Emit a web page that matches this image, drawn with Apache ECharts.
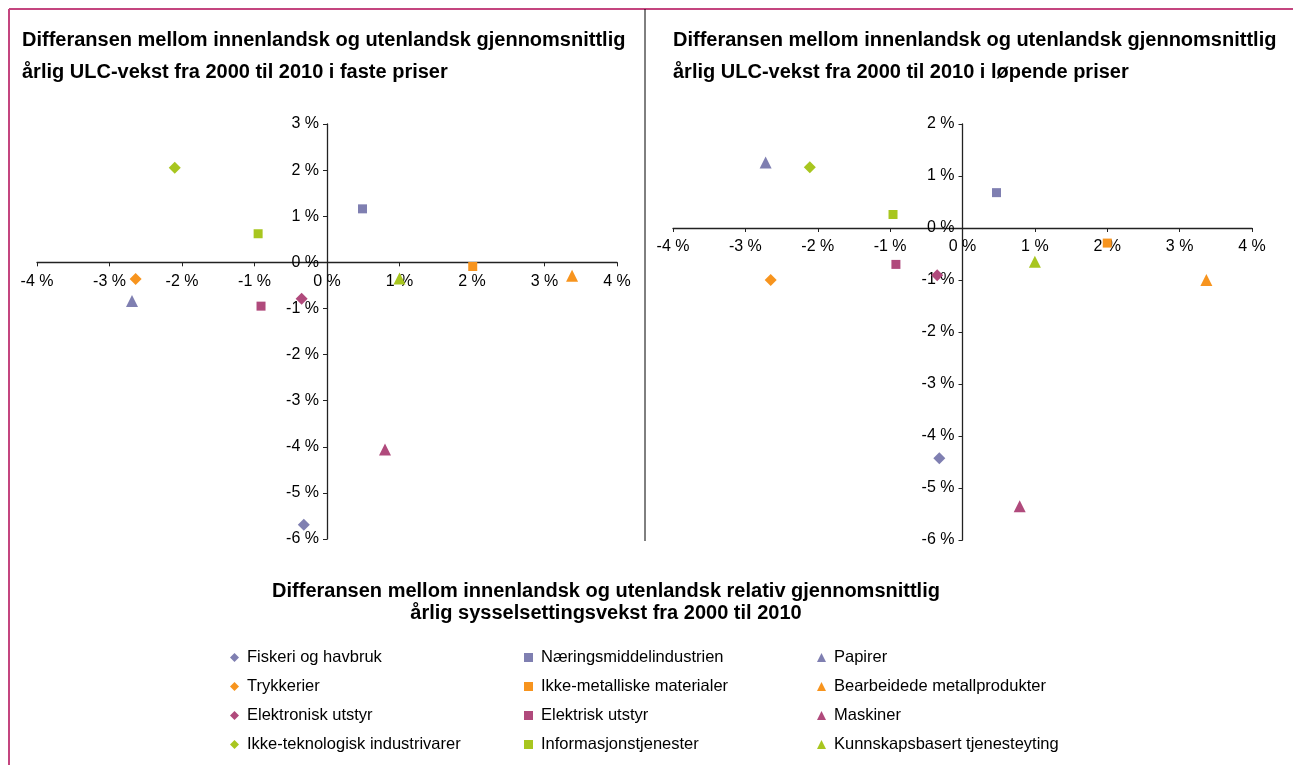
<!DOCTYPE html>
<html><head><meta charset="utf-8">
<script src="https://cdn.jsdelivr.net/npm/echarts@6/dist/echarts.min.js"></script>
<style>html,body{margin:0;padding:0;background:#fff}#c{width:1293px;height:765px}</style>
</head><body><div id="c"></div>
<script>
const seriesNames = ["Fiskeri og havbruk","Næringsmiddelindustrien","Papirer","Trykkerier","Ikke-metalliske materialer","Bearbeidede metallprodukter","Elektronisk utstyr","Elektrisk utstyr","Maskiner","Ikke-teknologisk industrivarer","Informasjonstjenester","Kunnskapsbasert tjenesteyting"];
const symbols = ["diamond","rect","triangle","diamond","rect","triangle","diamond","rect","triangle","diamond","rect","triangle"];
const colors = ["#7F7FB1","#7F7FB1","#7F7FB1","#F7941E","#F7941E","#F7941E","#B04A7C","#B04A7C","#B04A7C","#A8C61F","#A8C61F","#A8C61F"];
// employment growth difference (x), ULC growth difference in constant prices (y)
const fasteX = [-0.32, 0.49, -2.69, -2.64, 2.01, 3.38, -0.35, -0.91, 0.80, -2.10, -0.95, 1.00];
const fasteY = [-5.69, 1.16, -0.84, -0.36, -0.09, -0.29, -0.79, -0.95, -4.06, 2.05, 0.62, -0.35];
// ULC growth difference in current prices (y)
const lopendeX = [-0.32, 0.47, -2.72, -2.65, 2.00, 3.37, -0.35, -0.92, 0.79, -2.11, -0.96, 1.00];
const lopendeY = [-4.43, 0.68, 1.26, -1.00, -0.29, -1.00, -0.91, -0.70, -5.35, 1.17, 0.26, -0.65];
const xRange = [-4, 4];
const yRangeFaste = [-6, 3];
const yRangeLopende = [-6, 2];
const titleLeft = "Differansen mellom innenlandsk og utenlandsk gjennomsnittlig\nårlig ULC-vekst fra 2000 til 2010 i faste priser";
const titleRight = "Differansen mellom innenlandsk og utenlandsk gjennomsnittlig\nårlig ULC-vekst fra 2000 til 2010 i løpende priser";
const xTitle = "Differansen mellom innenlandsk og utenlandsk relativ gjennomsnittlig\nårlig sysselsettingsvekst fra 2000 til 2010";

const W = 1293, H = 765;
const FONT = "'Liberation Sans', Arial, Helvetica, sans-serif";
const pct = v => v + " %";
const grids = [{left:37,right:676,top:124,bottom:226},{left:673,right:41,top:124,bottom:225}];
const yRanges = [yRangeFaste, yRangeLopende];

// axes cross at zero: shift them inward by the distance from the grid edge to the zero value
function xAx(i){
  const g = grids[i], r = yRanges[i], h = H - g.top - g.bottom;
  const off = -h * (0 - r[0]) / (r[1] - r[0]);
  return {gridIndex:i,type:'value',min:xRange[0],max:xRange[1],interval:1,position:'bottom',offset:off,
  axisLine:{onZero:false,lineStyle:{color:'#222',width:1.3}},
  axisTick:{length:4,lineStyle:{color:'#222'}},
  axisLabel:{formatter:pct,color:'#000',fontSize:16,fontFamily:FONT,margin:11},
  splitLine:{show:false}};}
function yAx(i){
  const g = grids[i], r = yRanges[i], w = W - g.left - g.right;
  const off = -w * (0 - xRange[0]) / (xRange[1] - xRange[0]);
  return {gridIndex:i,type:'value',min:r[0],max:r[1],interval:1,position:'left',offset:off,
  axisLine:{onZero:false,lineStyle:{color:'#222',width:1.3}},
  axisTick:{length:4,lineStyle:{color:'#222'}},
  axisLabel:{formatter:pct,color:'#000',fontSize:16,fontFamily:FONT,margin:8},
  splitLine:{show:false}};}
const series = [];
[[fasteX,fasteY],[lopendeX,lopendeY]].forEach((d,g)=>{
  seriesNames.forEach((n,i)=>{
    const sz = symbols[i]==='rect'?9:12;
    series.push({name:n,type:'scatter',xAxisIndex:g,yAxisIndex:g,symbol:symbols[i],symbolSize:sz,
      itemStyle:{color:colors[i],opacity:1},data:[[d[0][i],d[1][i]]],z:3});
  });
});
function legendCol(idxs,left){return {orient:'vertical',left:left,top:644,itemGap:12,itemWidth:9,itemHeight:9,
  textStyle:{fontSize:16.5,fontFamily:FONT,color:'#000',padding:[0,0,0,3]},data:idxs.map(i=>({name:seriesNames[i],icon:symbols[i]}))};}
const option = {
  animation:false,
  title:[
    {text:titleLeft,left:22,top:24,padding:0,textStyle:{fontSize:20,fontWeight:'bold',fontFamily:FONT,color:'#000',lineHeight:32}},
    {text:titleRight,left:673,top:24,padding:0,textStyle:{fontSize:20,fontWeight:'bold',fontFamily:FONT,color:'#000',lineHeight:32}}
  ],
  grid:grids,
  xAxis:[xAx(0),xAx(1)],
  yAxis:[yAx(0),yAx(1)],
  legend:[legendCol([0,3,6,9],225),legendCol([1,4,7,10],519),legendCol([2,5,8,11],812)],
  graphic:[
    {type:'line',shape:{x1:9,y1:9,x2:1293,y2:9},style:{stroke:'#C4457F',lineWidth:2}},
    {type:'line',shape:{x1:9,y1:9,x2:9,y2:765},style:{stroke:'#C4457F',lineWidth:2}},
    {type:'line',shape:{x1:645,y1:9,x2:645,y2:541},style:{stroke:'#000',lineWidth:1}},
    {type:'text',x:606,y:580,style:{text:xTitle,textAlign:'center',fill:'#000',font:"bold 20px "+FONT,lineHeight:22}}
  ],
  series:series
};
echarts.init(document.getElementById('c')).setOption(option);
</script></body></html>
